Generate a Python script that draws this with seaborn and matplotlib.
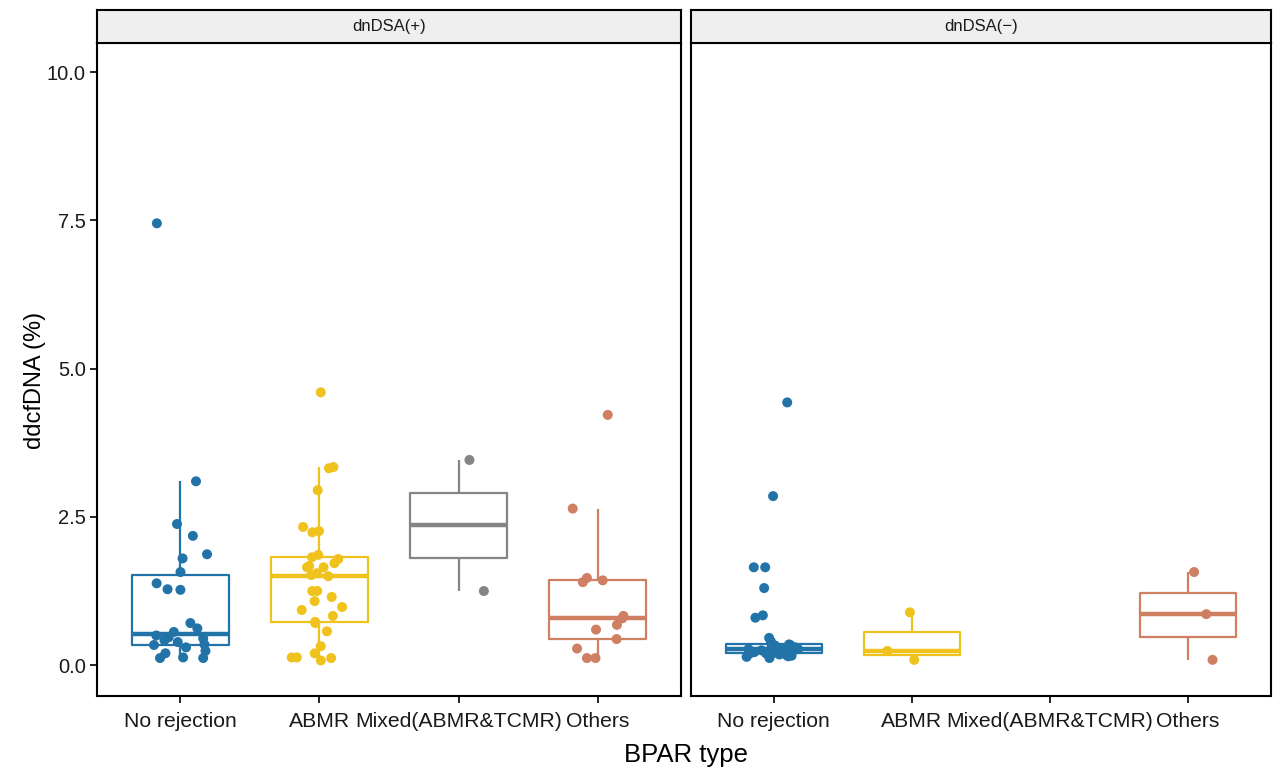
import numpy as np
import pandas as pd
import matplotlib
matplotlib.use("Agg")
import matplotlib.pyplot as plt
import seaborn as sns

# ---------------- data ----------------
categories = ["No rejection", "ABMR", "Mixed(ABMR&TCMR)", "Others"]
facets = ["dnDSA(+)", "dnDSA(\u2212)"]

pos_no_rejection = [7.45, 3.10, 2.38, 2.18, 1.87, 1.80, 1.57, 1.38, 1.28, 1.27,
                    0.71, 0.62, 0.56, 0.50, 0.47, 0.45, 0.42, 0.39, 0.35, 0.34,
                    0.30, 0.24, 0.20, 0.13, 0.12, 0.12]
pos_abmr = [4.60, 3.34, 3.32, 2.95, 2.33, 2.26, 2.24, 1.86, 1.82, 1.79, 1.72,
            1.67, 1.65, 1.65, 1.55, 1.52, 1.50, 1.25, 1.25, 1.15, 1.08, 0.98,
            0.93, 0.83, 0.73, 0.71, 0.57, 0.32, 0.20, 0.13, 0.13, 0.12, 0.08]
pos_mixed = [3.46, 1.25]
pos_others = [4.22, 2.64, 1.47, 1.43, 1.40, 0.83, 0.79, 0.68, 0.60, 0.44,
              0.28, 0.12, 0.12]

neg_no_rejection = [4.43, 2.85, 1.65, 1.65, 1.30, 0.84, 0.80, 0.46, 0.39,
                    0.35, 0.34, 0.33, 0.32, 0.31, 0.30, 0.29, 0.28, 0.27, 0.27,
                    0.26, 0.25, 0.25, 0.24, 0.23, 0.22, 0.21, 0.20, 0.20, 0.19,
                    0.19, 0.18, 0.17, 0.16, 0.15, 0.14, 0.12]
neg_abmr = [0.89, 0.24, 0.09]
neg_others = [1.57, 0.86, 0.09]

palette = {"No rejection": "#2274A8", "ABMR": "#EFC21D",
           "Mixed(ABMR&TCMR)": "#858585", "Others": "#CF7F62"}

y_ticks = [0, 2.5, 5.0, 7.5, 10.0]
y_ticklabels = ["0.0", "2.5", "5.0", "7.5", "10.0"]


def make_df(groups):
    rows = []
    for cat, vals in groups:
        for v in vals:
            rows.append((cat, v))
    return pd.DataFrame(rows, columns=["type", "val"])


df_pos = make_df([("No rejection", pos_no_rejection), ("ABMR", pos_abmr),
                  ("Mixed(ABMR&TCMR)", pos_mixed), ("Others", pos_others)])
df_neg = make_df([("No rejection", neg_no_rejection), ("ABMR", neg_abmr),
                  ("Others", neg_others)])

# ---------------- style ----------------
sns.set_style("ticks")
plt.rcParams["font.family"] = ["Liberation Sans", "DejaVu Sans"]

W, H = 1276, 770
fig = plt.figure(figsize=(W / 100, H / 100), dpi=100)


def rect(x0, y0, x1, y1):
    return [x0 / W, 1 - y1 / H, (x1 - x0) / W, (y1 - y0) / H]


panel_px = [(97, 43, 681, 696), (691, 43, 1271, 696)]
strip_px = [(97, 10, 681, 43), (691, 10, 1271, 43)]

np.random.seed(7)
for i, (df, label) in enumerate(zip([df_pos, df_neg], facets)):
    ax = fig.add_axes(rect(*panel_px[i]))
    sns.boxplot(data=df, x="type", y="val", hue="type", order=categories,
                hue_order=categories, palette=palette, fill=False,
                saturation=1, width=0.7, showfliers=False, linewidth=1.6,
                medianprops={"linewidth": 3.2},
                capprops={"visible": False},
                legend=False, ax=ax)
    sns.stripplot(data=df, x="type", y="val", hue="type", order=categories,
                  hue_order=categories, palette=palette, jitter=0.2, size=7.2,
                  linewidth=0, legend=False, ax=ax, zorder=3)
    ax.set_xlim(-0.6, 3.6)
    ax.set_ylim(-0.52, 10.49)
    ax.set_yticks(y_ticks)
    ax.set_yticklabels(y_ticklabels)
    ax.set_xlabel("")
    ax.set_ylabel("")
    for sp in ax.spines.values():
        sp.set_visible(True)
        sp.set_color("black")
        sp.set_linewidth(1.5)
    ax.tick_params(direction="out", length=5, width=1.2, color="black",
                   labelcolor="#1a1a1a")
    ax.tick_params(axis="x", labelsize=15.2, pad=6.5)
    ax.tick_params(axis="y", labelsize=14.5, pad=3)
    if i == 1:
        ax.tick_params(axis="y", left=False, labelleft=False)

    sax = fig.add_axes(rect(*strip_px[i]))
    sax.set_facecolor("#EFEFEF")
    sax.set_xticks([])
    sax.set_yticks([])
    for sp in sax.spines.values():
        sp.set_visible(True)
        sp.set_color("black")
        sp.set_linewidth(1.5)
    sax.text(0.5, 0.5, label, ha="center", va="center", fontsize=12,
             color="#1a1a1a", transform=sax.transAxes)

fig.text(686 / W, 1 - 755 / H, "BPAR type", ha="center", va="center",
         fontsize=18.5, color="black")
fig.text(35 / W, 1 - 380 / H, "ddcfDNA (%)", ha="center", va="center",
         rotation=90, fontsize=17, color="black")

fig.savefig("out.png", dpi=100, facecolor="white")
